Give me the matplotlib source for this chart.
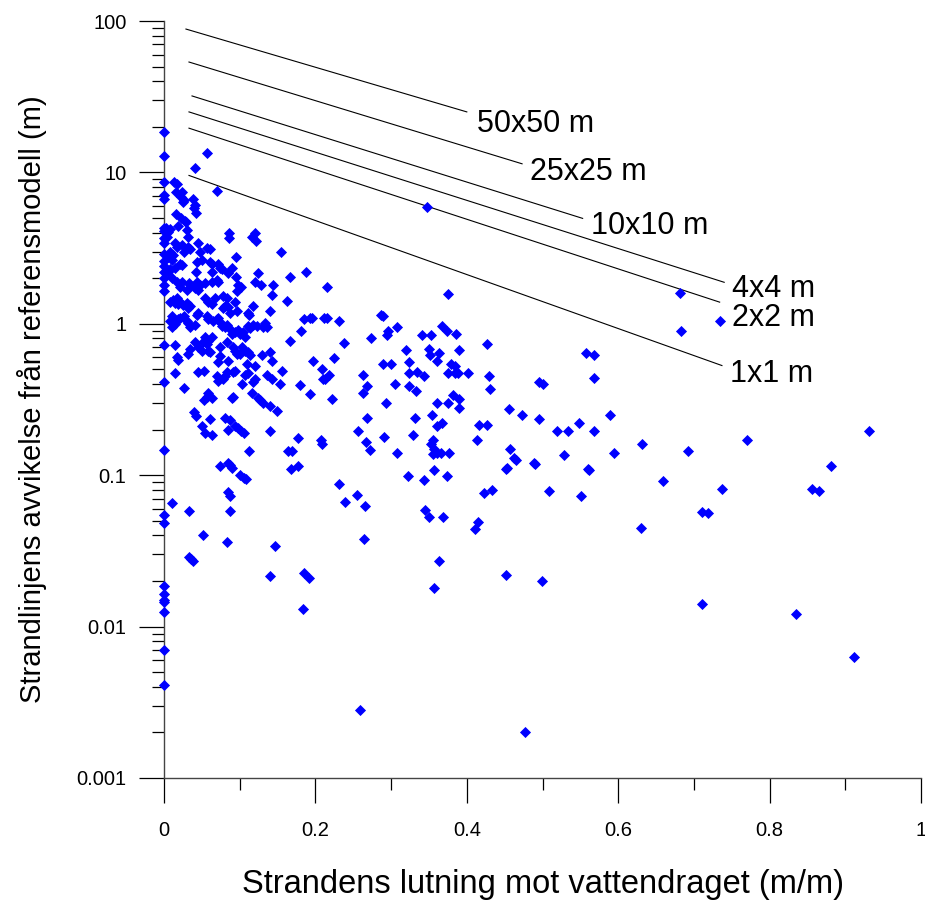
import matplotlib
matplotlib.use('Agg')
import matplotlib.pyplot as plt
from matplotlib.ticker import LogLocator, MultipleLocator, FuncFormatter, NullFormatter

plt.rcParams['font.family'] = ['Liberation Sans', 'DejaVu Sans']

# punkter med lutning 0
zero_slope_dev = [18.5, 12.9, 8.6, 7.1, 6.7, 4.3, 4.1, 3.7, 3.4, 2.9, 2.6, 2.4, 2.2, 2.0,
                  1.8, 1.65, 0.72, 0.41, 0.146, 0.055, 0.048, 0.0185, 0.0165, 0.015,
                  0.0145, 0.0124, 0.0070, 0.0041]

# tät klunga, avvikelse > 1 m
cluster_high = [
    (.057, 13.5), (.041, 10.7), (.070, 7.5), (.013, 8.7), (.017, 8.4),
    (.016, 7.4), (.024, 7.4), (.022, 6.9), (.025, 6.4), (.026, 6.6),
    (.038, 6.7), (.041, 6.1), (.040, 5.8), (.042, 5.4),
    (.016, 5.35), (.022, 4.97), (.028, 4.8), (.029, 4.7),
    (.003, 4.3), (.008, 4.25), (.005, 4.05), (.018, 4.4), (.030, 4.15), (.032, 3.75), (.004, 3.75),
    (.086, 3.99), (.086, 3.7), (.120, 4.0), (.116, 3.75), (.122, 3.5),
    (.155, 2.96), (.045, 3.4),
    (.015, 3.4), (.017, 3.2), (.024, 3.3), (.032, 3.2), (.026, 3.0), (.034, 3.1),
    (.008, 3.0), (.012, 2.85), (.011, 2.65), (.005, 2.75),
    (.057, 3.15), (.061, 3.1), (.048, 3.0), (.050, 2.65), (.044, 2.55),
    (.061, 2.55), (.063, 2.5), (.071, 2.5), (.074, 2.35), (.077, 2.3), (.063, 2.2),
    (.095, 2.75), (.090, 2.35), (.021, 2.5), (.024, 2.45), (.015, 2.35),
    (.008, 2.3), (.005, 2.2), (.011, 2.0), (.017, 1.9), (.024, 1.9), (.021, 1.75),
    (.042, 2.2), (.085, 2.15), (.095, 2.05),
    (.124, 2.15), (.120, 1.9), (.128, 1.8), (.144, 1.8), (.166, 2.05), (.188, 2.2),
    (.033, 1.85), (.044, 1.9), (.048, 1.8), (.054, 1.85), (.063, 1.9), (.070, 1.95), (.071, 1.9),
    (.098, 1.8), (.102, 1.75), (.096, 1.65), (.143, 1.55), (.162, 1.42),
    (.008, 1.4), (.012, 1.44), (.017, 1.49), (.021, 1.4), (.015, 1.38), (.018, 1.35),
    (.030, 1.38), (.032, 1.28), (.034, 1.31), (.025, 1.33),
    (.054, 1.49), (.058, 1.4), (.063, 1.36), (.067, 1.49), (.078, 1.53), (.083, 1.49),
    (.081, 1.31), (.078, 1.28), (.085, 1.3), (.094, 1.4), (.096, 1.22), (.087, 1.18),
    (.111, 1.18), (.112, 1.15), (.118, 1.31), (.140, 1.22),
    (.185, 1.08), (.193, 1.1), (.196, 1.09), (.211, 1.1),
    (.030, 1.66), (.041, 1.73), (.045, 1.68), (.034, 1.8), (.215, 1.75),
]

# tät klunga, 0.1-1 m
cluster_mid = [
    (.011, 1.13), (.008, 1.05), (.011, 0.955), (.015, 1.0), (.018, 1.07), (.021, 1.1),
    (.026, 1.13), (.030, 1.05), (.032, 1.02), (.034, 0.955), (.041, 0.98), (.044, 1.15), (.045, 1.18),
    (.057, 1.13), (.058, 1.08), (.065, 1.05), (.070, 1.08), (.071, 1.1), (.074, 1.03),
    (.077, 0.97), (.081, 0.955), (.083, 0.985), (.087, 0.93), (.090, 0.86), (.094, 0.885),
    (.098, 0.915), (.100, 0.86), (.104, 0.885), (.107, 0.82), (.111, 0.97), (.114, 0.94),
    (.118, 0.985), (.123, 0.97), (.131, 0.955), (.133, 1.02), (.136, 0.955),
    (.181, 0.9), (.166, 0.77),
    (.054, 0.82), (.058, 0.77), (.063, 0.82), (.052, 0.76),
    (.041, 0.76), (.045, 0.70), (.050, 0.66), (.034, 0.68), (.032, 0.63),
    (.057, 0.73), (.058, 0.66), (.061, 0.65), (.015, 0.72), (.074, 0.70), (.083, 0.76),
    (.091, 0.70), (.094, 0.66), (.096, 0.63), (.100, 0.63), (.103, 0.70), (.107, 0.66),
    (.111, 0.65), (.114, 0.62), (.129, 0.62), (.140, 0.65), (.143, 0.57),
    (.074, 0.61), (.071, 0.56), (.085, 0.57),
    (.110, 0.54), (.120, 0.53), (.111, 0.475), (.107, 0.46), (.017, 0.60), (.018, 0.58),
    (.045, 0.48), (.053, 0.49), (.015, 0.475),
    (.070, 0.45), (.071, 0.42), (.078, 0.435), (.083, 0.48), (.081, 0.45), (.091, 0.48), (.094, 0.49),
    (.103, 0.40), (.118, 0.41), (.120, 0.435),
    (.136, 0.46), (.143, 0.435), (.156, 0.49), (.153, 0.40), (.180, 0.395),
    (.197, 0.57), (.209, 0.50), (.210, 0.435), (.026, 0.375),
    (.058, 0.35), (.057, 0.33), (.053, 0.315), (.063, 0.325), (.091, 0.33), (.090, 0.325),
    (.116, 0.35), (.124, 0.325), (.127, 0.315), (.131, 0.30), (.140, 0.285), (.149, 0.265),
    (.193, 0.345), (.040, 0.26), (.042, 0.245), (.061, 0.235), (.081, 0.24), (.087, 0.23),
    (.050, 0.21), (.054, 0.19), (.063, 0.185),
    (.094, 0.21), (.098, 0.205), (.102, 0.195), (.106, 0.19), (.085, 0.20),
    (.140, 0.195), (.177, 0.175), (.207, 0.17), (.112, 0.145), (.164, 0.145), (.169, 0.145),
]

# tät klunga, < 0.13 m
cluster_low = [
    (.074, 0.115), (.085, 0.12), (.087, 0.117), (.090, 0.112),
    (.100, 0.10), (.106, 0.096), (.108, 0.094), (.168, 0.11), (.177, 0.115),
    (.085, 0.077), (.087, 0.073), (.011, 0.066), (.033, 0.058), (.087, 0.058),
    (.052, 0.040), (.083, 0.036), (.147, 0.034),
    (.033, 0.029), (.036, 0.028), (.038, 0.027),
    (.140, 0.0215), (.185, 0.0225), (.192, 0.021), (.184, 0.0130),
]

# spridda punkter, lutning > 0.2
scattered = [
    (.375, 1.57), (.215, 1.1), (.231, 1.05), (.287, 1.15), (.289, 1.13), (.308, 0.955),
    (.296, 0.89), (.294, 0.84), (.273, 0.81), (.238, 0.75), (.341, 0.84), (.353, 0.84),
    (.367, 0.97), (.374, 0.89), (.386, 0.86), (.427, 0.73), (.320, 0.67), (.350, 0.68),
    (.352, 0.62), (.363, 0.64), (.390, 0.67), (.361, 0.57), (.225, 0.59), (.289, 0.54),
    (.300, 0.54), (.324, 0.56), (.379, 0.54), (.384, 0.53), (.218, 0.46), (.213, 0.435),
    (.263, 0.46), (.324, 0.47), (.334, 0.48), (.343, 0.45), (.375, 0.47), (.384, 0.47),
    (.388, 0.47), (.402, 0.47), (.429, 0.45), (.268, 0.39), (.263, 0.35), (.305, 0.40),
    (.324, 0.39), (.333, 0.36), (.431, 0.37), (.222, 0.32), (.382, 0.34), (.390, 0.32),
    (.293, 0.30), (.361, 0.30), (.375, 0.30), (.390, 0.28), (.354, 0.25), (.456, 0.275),
    (.268, 0.24), (.332, 0.24), (.361, 0.21), (.367, 0.22), (.416, 0.215), (.427, 0.215),
    (.256, 0.195), (.329, 0.185), (.291, 0.18), (.209, 0.16), (.267, 0.165), (.272, 0.146),
    (.355, 0.17), (.353, 0.16), (.357, 0.15), (.361, 0.14), (.366, 0.14), (.355, 0.137),
    (.376, 0.14), (.413, 0.17), (.457, 0.15), (.462, 0.13), (.308, 0.14), (.452, 0.11),
    (.682, 1.6), (.683, 0.90), (.557, 0.64), (.568, 0.62), (.568, 0.44), (.495, 0.41),
    (.501, 0.40), (.473, 0.25), (.495, 0.235), (.548, 0.22), (.589, 0.25), (.519, 0.195),
    (.534, 0.195), (.568, 0.195), (.631, 0.16), (.594, 0.14), (.692, 0.145), (.528, 0.135),
    (.489, 0.12), (.560, 0.11), (.734, 1.05), (.347, 5.9), (.770, 0.17), (.931, 0.195),
    (.231, 0.087), (.239, 0.067), (.255, 0.074), (.266, 0.063), (.264, 0.038), (.322, 0.099),
    (.343, 0.093), (.357, 0.108), (.374, 0.099), (.345, 0.059), (.350, 0.053), (.369, 0.053),
    (.363, 0.027), (.357, 0.018), (.415, 0.049), (.411, 0.044), (.423, 0.076), (.433, 0.080),
    (.453, 0.111), (.465, 0.126), (.490, 0.119), (.509, 0.079), (.551, 0.073), (.561, 0.108),
    (.452, 0.022), (.499, 0.020), (.477, 0.0020), (.259, 0.0028), (.630, 0.045), (.659, 0.091),
    (.711, 0.057), (.719, 0.056), (.737, 0.081), (.711, 0.0142), (.835, 0.0122),
    (.856, 0.081), (.865, 0.079), (.881, 0.115), (.911, 0.0063),
]

# referenslinjer för olika upplösning (start- och slutpunkt)
line_names = ['50x50 m', '25x25 m', '10x10 m', '4x4 m', '2x2 m', '1x1 m']
line_x0 = [0.029, 0.033, 0.037, 0.033, 0.033, 0.033]
line_y0 = [88.5, 53.6, 32.0, 25.1, 19.6, 9.55]
line_x1 = [0.400, 0.473, 0.553, 0.740, 0.734, 0.737]
line_y1 = [25.1, 11.4, 4.97, 1.88, 1.39, 0.53]
label_x = [0.413, 0.484, 0.564, 0.750, 0.750, 0.748]
label_y = [21.0, 10.1, 4.40, 1.69, 1.10, 0.468]

xs = [0.0] * len(zero_slope_dev)
ys = list(zero_slope_dev)
for group in (cluster_high, cluster_mid, cluster_low, scattered):
    xs += [p[0] for p in group]
    ys += [p[1] for p in group]

fig = plt.figure(figsize=(9.25, 9.06), dpi=100)
ax = fig.add_axes([0.1773, 0.1413, 0.8184, 0.8355])

ax.scatter(xs, ys, marker='D', s=32, color='#0000ff', linewidths=0, clip_on=False, zorder=3)

for i in range(len(line_names)):
    ax.plot([line_x0[i], line_x1[i]], [line_y0[i], line_y1[i]], color='black', lw=0.8)
    ax.text(label_x[i], label_y[i], line_names[i], fontsize=22, ha='left', va='center')

ax.set_yscale('log')
ax.set_xlim(0, 1)
ax.set_ylim(0.001, 100)

ax.xaxis.set_major_locator(MultipleLocator(0.2))
ax.xaxis.set_minor_locator(MultipleLocator(0.1))
ax.xaxis.set_major_formatter(FuncFormatter(lambda v, p: '{:g}'.format(round(v, 3))))
ax.yaxis.set_major_locator(LogLocator(base=10, numticks=10))
ax.yaxis.set_minor_locator(LogLocator(base=10, subs=range(2, 10), numticks=20))
ax.yaxis.set_major_formatter(FuncFormatter(lambda v, p: '{:g}'.format(v)))
ax.yaxis.set_minor_formatter(NullFormatter())

for s in ['top', 'right']:
    ax.spines[s].set_visible(False)
for s in ['left', 'bottom']:
    ax.spines[s].set_color('#444444')
    ax.spines[s].set_linewidth(1.0)

ax.tick_params(axis='both', which='major', direction='out', length=18, width=0.9, labelsize=14.5)
ax.tick_params(axis='both', which='minor', direction='out', length=8.6, width=0.9)
ax.tick_params(axis='x', which='major', pad=13)
ax.tick_params(axis='y', which='major', pad=9)

ax.set_xlabel('Strandens lutning mot vattendraget (m/m)', fontsize=23.5)
ax.xaxis.label.set_va('center')
ax.xaxis.set_label_coords(0.5, -0.1413)
ax.set_ylabel('Strandlinjens avvikelse från referensmodell (m)', fontsize=21)
ax.yaxis.label.set_va('center')
ax.yaxis.set_label_coords(-0.1744, 0.5)

fig.savefig('out.png', dpi=100)
